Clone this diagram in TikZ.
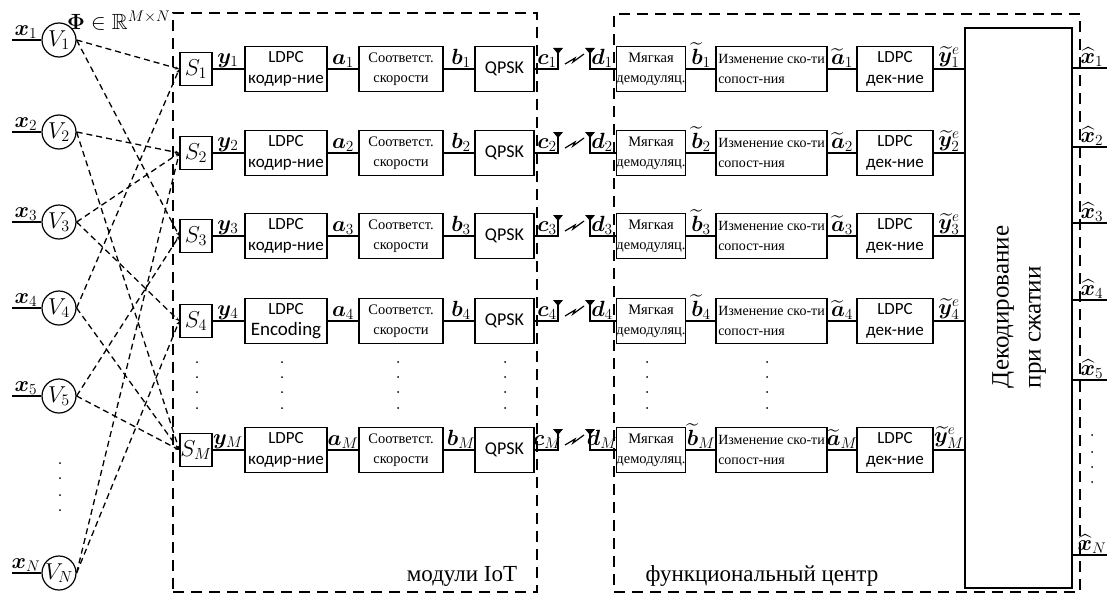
\RequirePackage{fix-cm}
\documentclass[tikz,border=0pt]{standalone}
\usepackage{amsmath,amssymb,bm}
\usepackage{fontspec}
\setmainfont{Liberation Serif}
\newfontfamily\carl{Carlito}
\usetikzlibrary{arrows.meta}
\tikzset{
  blk/.style={draw, line width=1.5pt, inner sep=0pt, align=center, minimum height=45pt},
  sbox/.style={draw, line width=1.5pt, minimum width=32pt, minimum height=33pt, inner sep=0pt, font=\fontsize{23}{25}\selectfont},
  vnode/.style={draw, circle, line width=1.2pt, minimum size=34pt, inner sep=0pt, font=\fontsize{23}{25}\selectfont},
  sig/.style={line width=1.4pt},
  link/.style={dash pattern=on 6pt off 4pt, line width=1.3pt, -{Stealth[length=4pt,width=3pt]}},
  region/.style={draw, dash pattern=on 11pt off 7pt, line width=1.5pt, inner sep=0pt},
  lab/.style={anchor=south, inner sep=1pt, font=\fontsize{22}{24}\selectfont},
  carlbox/.style={blk, font=\carl\fontsize{17}{21}\selectfont},
  timesbox/.style={blk, font=\fontsize{14.5}{20}\selectfont},
}
\begin{document}
\begin{tikzpicture}[x=1pt,y=-1pt]
\useasboundingbox (0,0) rectangle (1107,594);

% regions
\node[region, minimum width=364pt, minimum height=579pt] (iot) at (355,302.5) {};
\node[region, minimum width=466pt, minimum height=578pt] (fc) at (847,303) {};
\node[font=\fontsize{23}{25}\selectfont, inner sep=0pt] (iotlab) at (462,576) {модули IoT};
\node[font=\fontsize{23}{25}\selectfont, inner sep=0pt] (fclab) at (762,576) {функциональный центр};

% sources
\foreach \y/\n in {40/1,132/2,222/3,308/4,396/5,573/N}{
  \node[vnode] (V\n) at (59,\y) {$V_{\n}$};
  \coordinate (in\n) at (12,\y);
  \draw[sig] (in\n) -- (V\n.west);
  \node[lab] (xl\n) at (26,\y) {$\bm{x}_{\n}$};
}
\node[font=\fontsize{22}{24}\selectfont, anchor=west, inner sep=0pt] (phi) at (67,21) {$\bm{\Phi}\in\mathbb{R}^{M\times N}$};

% decoder
\node[draw, line width=1.5pt, minimum width=107pt, minimum height=560pt, inner sep=0pt] (dec) at (1018.5,308) {};
\node[rotate=90, align=left, font=\fontsize{25}{32}\selectfont, inner sep=0pt] (dectext) at (1019,307) {Декодирование\\при сжатии};

% rows
\foreach \r/\n/\enc in {69/1/кодир-ние,153/2/кодир-ние,236/3/кодир-ние,321/4/{\fontsize{19}{21}\selectfont Encoding},450/M/кодир-ние}{
  \node[sbox] (S\n) at (196,\r) {$S_{\n}$};
  \node[carlbox, minimum width=82pt] (L\n) at (286,\r) {LDPC\\\enc};
  \node[timesbox, minimum width=84pt] (R\n) at (401,\r) {Соответст.\\скорости};
  \node[carlbox, minimum width=59pt, font=\carl\fontsize{18}{20}\selectfont] (Q\n) at (504.5,\r) {QPSK};
  \node[timesbox, minimum width=68pt] (D\n) at (651,\r) {Мягкая\\демодуляц.};
  \node[timesbox, minimum width=111pt, align=left, font=\fontsize{14}{20}\selectfont] (C\n) at (771.5,\r) {Изменение ско-ти\\сопост-ния};
  \node[carlbox, minimum width=76pt] (LD\n) at (895,\r) {LDPC\\дек-ние};
  \coordinate (ta\n) at (558,\r);
  \coordinate (tt\n) at (558,{\r-17});
  \coordinate (ra\n) at (590,\r);
  \coordinate (rt\n) at (590,{\r-17});
  \draw[sig] (S\n) -- (L\n);
  \draw[sig] (L\n) -- (R\n);
  \draw[sig] (R\n) -- (Q\n);
  \draw[sig] (Q\n.east) -- (ta\n) -- (tt\n);
  \draw[sig] (rt\n) -- (ra\n) -- (D\n.west);
  \draw[sig] (D\n) -- (C\n);
  \draw[sig] (C\n) -- (LD\n);
  \draw[sig] (LD\n.east) -- (LD\n.east -| dec.west);
  \fill (553,{\r-21}) -- (563,{\r-21}) -- (558,{\r-15}) -- cycle;
  \fill (585,{\r-21}) -- (595,{\r-21}) -- (590,{\r-15}) -- cycle;
  \draw[line width=1.2pt] (565,{\r-5}) -- (575,{\r-11}) -- (573,{\r-7}) -- (584,{\r-15});
  \node[lab] (ly\n) at (228,\r) {$\bm{y}_{\n}$};
  \node[lab] (la\n) at (343,\r) {$\bm{a}_{\n}$};
  \node[lab] (lb\n) at (461,\r) {$\bm{b}_{\n}$};
  \node[lab] (lc\n) at (547,\r) {$\bm{c}_{\n}$};
  \node[lab] (ld\n) at (602,\r) {$\bm{d}_{\n}$};
  \node[lab] (lbt\n) at (701,\r) {$\widetilde{\bm{b}}_{\n}$};
  \node[lab] (lat\n) at (842,\r) {$\widetilde{\bm{a}}_{\n}$};
  \node[lab] (lye\n) at (949,\r) {$\widetilde{\bm{y}}^{e}_{\n}$};
}

% outputs
\foreach \y/\n in {68/1,147/2,223/3,300/4,380/5,555/N}{
  \coordinate (o\n) at (1107,\y);
  \draw[sig] (dec.east |- o\n) -- (o\n);
  \node[lab] (xh\n) at (1092,\y) {$\widehat{\bm{x}}_{\n}$};
}

% sensing links
\foreach \a/\b in {1/1,1/3,2/2,2/M,3/2,3/4,4/1,4/M,5/3,5/M,N/2,N/4}{
  \draw[link] (V\a.east) -- (S\b.west);
}

% continuation dots
\foreach \x in {197,282,398,505,647,767}{
  \foreach \y in {362,377,392,408}{ \fill (\x,\y) circle (1pt); }
}
\foreach \y in {463,478,495,510}{ \fill (60,\y) circle (1pt); }
\foreach \y in {435,452,467,482}{ \fill (1092,\y) circle (1pt); }
\end{tikzpicture}
\end{document}
